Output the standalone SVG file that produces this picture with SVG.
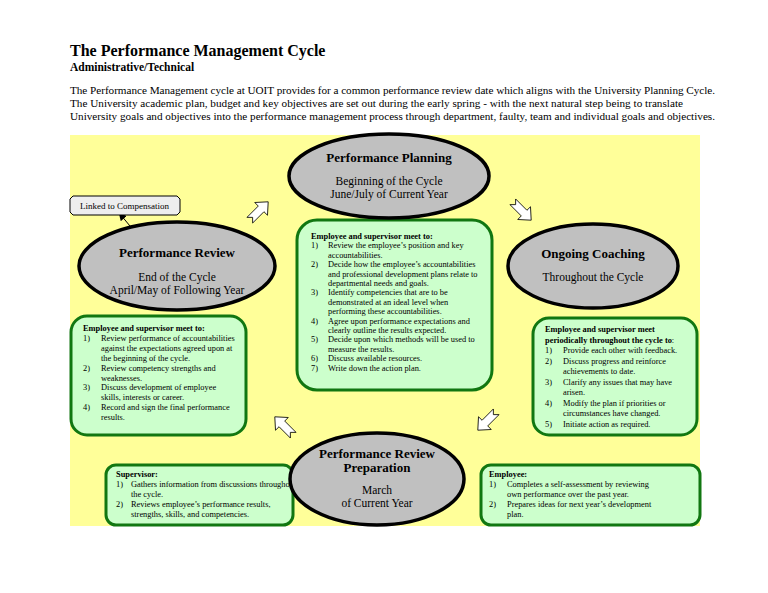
<svg xmlns="http://www.w3.org/2000/svg" width="768" height="593" viewBox="0 0 768 593">
<style>
text{font-family:"Liberation Serif","Times New Roman",serif;fill:#000}
.ell{fill:#c0c0c0;stroke:#000;stroke-width:3.5}
.box{fill:#ccffcc;stroke:#117711;stroke-width:3}
.h{font-weight:bold;font-size:13px;text-anchor:middle}
.s{font-size:11.5px;text-anchor:middle}
.t{font-size:8.4px}
.b{font-weight:bold}
.ba{fill:#fff;stroke:#000;stroke-width:0.8}
</style>
<defs>
<path id="barrow" d="M-13,-4 L3,-4 L3,-9 L13,0 L3,9 L3,4 L-13,4 L-9,0 Z"/>
<marker id="ah" markerWidth="8" markerHeight="8" refX="6" refY="4" orient="auto" markerUnits="userSpaceOnUse"><path d="M0,0 L8,4 L0,8 Z" fill="#000"/></marker>
</defs>
<rect width="768" height="593" fill="#fff"/>
<text x="70" y="56" style="font-size:16px;font-weight:bold">The Performance Management Cycle</text>
<text x="70" y="71" style="font-size:11.5px;font-weight:bold">Administrative/Technical</text>
<text x="70" y="94" style="font-size:11.2px" textLength="645">The Performance Management cycle at UOIT provides for a common performance review date which aligns with the University Planning Cycle.</text>
<text x="70" y="107" style="font-size:11.2px" textLength="613">The University academic plan, budget and key objectives are set out during the early spring - with the next natural step being to translate</text>
<text x="70" y="120" style="font-size:11.2px" textLength="645">University goals and objectives into the performance management process through department, faulty, team and individual goals and objectives.</text>
<rect x="70" y="135" width="630" height="391" fill="#ffff99"/>

<g id="connectors">
<line x1="135" y1="232" x2="120" y2="214" stroke="#000" stroke-width="1" marker-end="url(#ah)"/>
<use href="#barrow" class="ba" transform="translate(259,211) rotate(-45)"/>
<use href="#barrow" class="ba" transform="translate(522,211) rotate(45)"/>
<use href="#barrow" class="ba" transform="translate(487,421) rotate(135)"/>
<use href="#barrow" class="ba" transform="translate(284,426) rotate(-135)"/>
</g>

<g id="linked">
<path d="M73,196 L177,196 L180,199 L180,212 L177,215 L73,215 L70,212 L70,199 Z" fill="#eeeeee" stroke="#000" stroke-width="1"/>
<text x="80" y="209" style="font-size:9px">Linked to Compensation</text>
</g>

<g id="planning-box">
<rect x="297" y="220" width="195" height="170" rx="20" class="box"/>
<text class="t" x="311" y="239"><tspan class="b">Employee and supervisor meet to:</tspan>
<tspan x="311" dy="9.4">1)</tspan><tspan x="328">Review the employee’s position and key</tspan>
<tspan x="328" dy="9.4">accountabilities.</tspan>
<tspan x="311" dy="9.4">2)</tspan><tspan x="328">Decide how the employee’s accountabilities</tspan>
<tspan x="328" dy="9.4">and professional development plans relate to</tspan>
<tspan x="328" dy="9.4">departmental needs and goals.</tspan>
<tspan x="311" dy="9.4">3)</tspan><tspan x="328">Identify competencies that are to be</tspan>
<tspan x="328" dy="9.4">demonstrated at an ideal level when</tspan>
<tspan x="328" dy="9.4">performing these accountabilities.</tspan>
<tspan x="311" dy="9.4">4)</tspan><tspan x="328">Agree upon performance expectations and</tspan>
<tspan x="328" dy="9.4">clearly outline the results expected.</tspan>
<tspan x="311" dy="9.4">5)</tspan><tspan x="328">Decide upon which methods will be used to</tspan>
<tspan x="328" dy="9.4">measure the results.</tspan>
<tspan x="311" dy="9.4">6)</tspan><tspan x="328">Discuss available resources.</tspan>
<tspan x="311" dy="9.4">7)</tspan><tspan x="328">Write down the action plan.</tspan></text>
</g>
<g id="planning">
<ellipse cx="389" cy="176" rx="100" ry="42" class="ell"/>
<text class="h" x="389" y="162">Performance Planning</text>
<text class="s" x="389" y="185">Beginning of the Cycle</text>
<text class="s" x="389" y="198">June/July of Current Year</text>
</g>

<g id="review-box">
<rect x="71" y="316" width="175" height="119" rx="16" class="box"/>
<text class="t" x="83" y="331"><tspan class="b">Employee and supervisor meet to:</tspan>
<tspan x="83" dy="9.9">1)</tspan><tspan x="101">Review performance of accountabilities</tspan>
<tspan x="101" dy="9.9">against the expectations agreed upon at</tspan>
<tspan x="101" dy="9.9">the beginning of the cycle.</tspan>
<tspan x="83" dy="9.9">2)</tspan><tspan x="101">Review competency strengths and</tspan>
<tspan x="101" dy="9.9">weaknesses.</tspan>
<tspan x="83" dy="9.9">3)</tspan><tspan x="101">Discuss development of employee</tspan>
<tspan x="101" dy="9.9">skills, interests or career.</tspan>
<tspan x="83" dy="9.9">4)</tspan><tspan x="101">Record and sign the final performance</tspan>
<tspan x="101" dy="9.9">results.</tspan></text>
</g>
<g id="review">
<ellipse cx="177" cy="266" rx="98" ry="44" class="ell"/>
<text class="h" x="177" y="257">Performance Review</text>
<text class="s" x="177" y="281">End of the Cycle</text>
<text class="s" x="177" y="294">April/May of Following Year</text>
</g>

<g id="coaching-box">
<rect x="533" y="318" width="164" height="117" rx="16" class="box"/>
<text class="t" x="545" y="332"><tspan class="b">Employee and supervisor meet</tspan>
<tspan x="545" dy="10.5" class="b">periodically throughout the cycle to</tspan><tspan>:</tspan>
<tspan x="545" dy="10.5">1)</tspan><tspan x="563">Provide each other with feedback.</tspan>
<tspan x="545" dy="10.5">2)</tspan><tspan x="563">Discuss progress and reinforce</tspan>
<tspan x="563" dy="10.5">achievements to date.</tspan>
<tspan x="545" dy="10.5">3)</tspan><tspan x="563">Clarify any issues that may have</tspan>
<tspan x="563" dy="10.5">arisen.</tspan>
<tspan x="545" dy="10.5">4)</tspan><tspan x="563">Modify the plan if priorities or</tspan>
<tspan x="563" dy="10.5">circumstances have changed.</tspan>
<tspan x="545" dy="10.5">5)</tspan><tspan x="563">Initiate action as required.</tspan></text>
</g>
<g id="coaching">
<ellipse cx="593" cy="266" rx="85" ry="42" class="ell"/>
<text class="h" x="593" y="258">Ongoing Coaching</text>
<text class="s" x="593" y="281">Throughout the Cycle</text>
</g>

<g id="supervisor-box">
<rect x="106" y="465" width="187" height="60" rx="10" class="box"/>
<text class="t" x="116" y="477"><tspan class="b">Supervisor:</tspan>
<tspan x="116" dy="10">1)</tspan><tspan x="131">Gathers information from discussions throughout</tspan>
<tspan x="131" dy="10">the cycle.</tspan>
<tspan x="116" dy="10">2)</tspan><tspan x="131">Reviews employee’s performance results,</tspan>
<tspan x="131" dy="10">strengths, skills, and competencies.</tspan></text>
</g>
<g id="employee-box">
<rect x="481" y="465" width="219" height="60" rx="10" class="box"/>
<text class="t" x="489" y="477"><tspan class="b">Employee:</tspan>
<tspan x="489" dy="10">1)</tspan><tspan x="507">Completes a self-assessment by reviewing</tspan>
<tspan x="507" dy="10">own performance over the past year.</tspan>
<tspan x="489" dy="10">2)</tspan><tspan x="507">Prepares ideas for next year’s development</tspan>
<tspan x="507" dy="10">plan.</tspan></text>
</g>
<g id="preparation">
<ellipse cx="377" cy="479" rx="87" ry="46" class="ell"/>
<text class="h" x="377" y="458">Performance Review</text>
<text class="h" x="377" y="472">Preparation</text>
<text class="s" x="377" y="494">March</text>
<text class="s" x="377" y="507">of Current Year</text>
</g>
</svg>
